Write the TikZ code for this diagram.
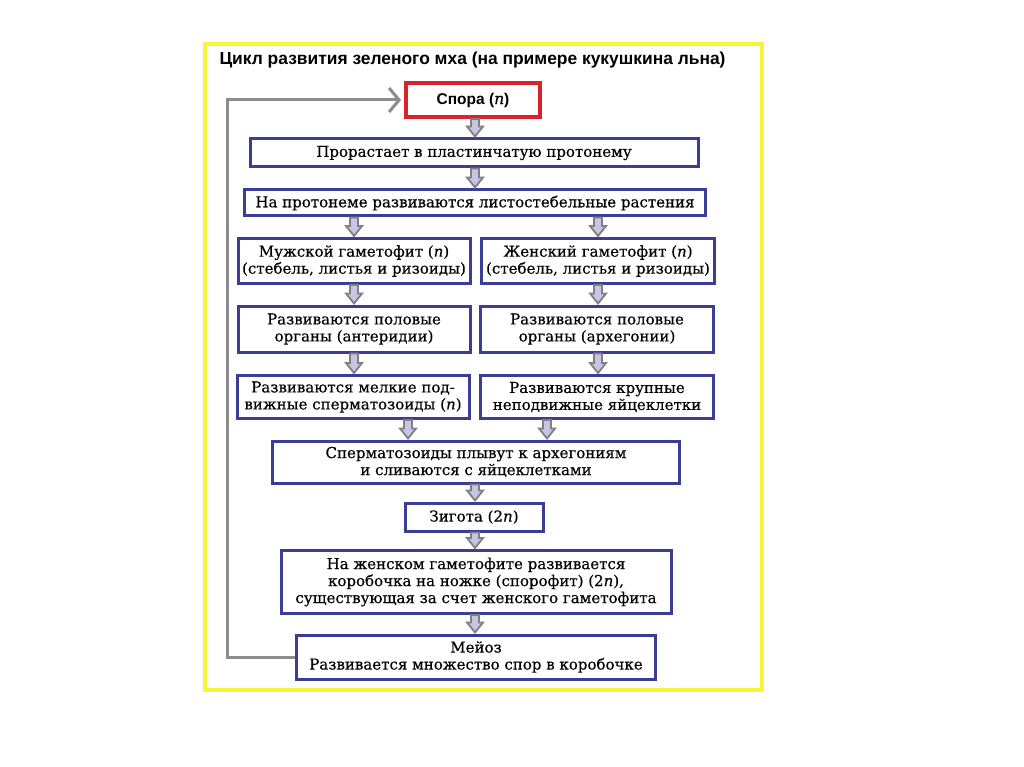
\documentclass[tikz,border=0pt]{standalone}
\usepackage{fontspec}
\setmainfont{DejaVu Serif}[FakeBold=0.4]
\newfontfamily\titlefont{Liberation Sans}
\usetikzlibrary{arrows.meta,calc}
\definecolor{boxblue}{HTML}{3A3E96}
\definecolor{sporered}{HTML}{D8232C}
\definecolor{frameyellow}{HTML}{F7F43A}
\definecolor{arrgray}{HTML}{808080}
\definecolor{arrfill}{HTML}{C8C4E4}
\definecolor{fbgray}{HTML}{8C8C8C}
\tikzset{
  bbox/.style={draw=boxblue, line width=3pt, fill=white, inner sep=0pt, align=center,
    font=\fontsize{15}{17}\selectfont},
  sporebox/.style={draw=sporered, line width=4pt, fill=white, inner sep=0pt, align=center,
    font=\titlefont\bfseries\fontsize{15.5}{18}\selectfont},
  barrowst/.style={draw=arrgray, fill=arrfill, line width=1.8pt, line join=miter},
  fb/.style={draw=fbgray, line width=3pt},
}
\newcommand\barrow[3]{%
  \draw[barrowst] let \p1=(#2.south), \p2=(#3.north), \p3=(#1,0) in
    (\x3-4pt,\y1) -- (\x3+4pt,\y1) -- (\x3+4pt,\y2+11pt) -- (\x3+8pt,\y2+11pt)
    -- (\x3,\y2+1pt) -- (\x3-8pt,\y2+11pt) -- (\x3-4pt,\y2+11pt) -- cycle;}
\newcommand\nn{\textit{n}}
\begin{document}
\begin{tikzpicture}[x=1pt,y=-1pt]
\useasboundingbox[fill=white] (0,0) rectangle (1024,767);
\draw[frameyellow, line width=4pt] (205,44) rectangle (762,690);
\node[anchor=west, font=\titlefont\bfseries\fontsize{17.4}{20}\selectfont] (title) at (216,60)
  {Цикл развития зеленого мха (на примере кукушкина льна)};

\node[sporebox, minimum width=134pt, minimum height=34pt] (spore) at (473,100)
  {Спора ({\normalfont\rmfamily\itshape n})};
\node[bbox, minimum width=448pt, minimum height=28pt] (b1) at (474,153)
  {Прорастает в пластинчатую протонему};
\node[bbox, minimum width=461pt, minimum height=26pt] (b2) at (475,203)
  {На протонеме развиваются листостебельные растения};
\node[bbox, minimum width=232pt, minimum height=45pt] (l3) at (354,261)
  {Мужской гаметофит (\nn)\\(стебель, листья и ризоиды)};
\node[bbox, minimum width=233pt, minimum height=45pt] (r3) at (598,261)
  {Женский гаметофит (\nn)\\(стебель, листья и ризоиды)};
\node[bbox, minimum width=232pt, minimum height=46pt] (l4) at (354,329)
  {Развиваются половые\\органы (антеридии)};
\node[bbox, minimum width=233pt, minimum height=46pt] (r4) at (597,329)
  {Развиваются половые\\органы (архегонии)};
\node[bbox, minimum width=232pt, minimum height=43pt] (l5) at (353,397)
  {Развиваются мелкие под-\\вижные сперматозоиды (\nn)};
\node[bbox, minimum width=233pt, minimum height=43pt] (r5) at (597,397)
  {Развиваются крупные\\неподвижные яйцеклетки};
\node[bbox, minimum width=407pt, minimum height=42pt] (b6) at (476,462)
  {Сперматозоиды плывут к архегониям\\и сливаются с яйцеклетками};
\node[bbox, minimum width=138pt, minimum height=28pt] (b7) at (474,517)
  {Зигота (2\nn)};
\node[bbox, minimum width=390pt, minimum height=63pt] (b8) at (476,582)
  {На женском гаметофите развивается\\коробочка на ножке (спорофит) (2\nn),\\существующая за счет женского гаметофита};
\node[bbox, minimum width=359pt, minimum height=44pt] (b9) at (476,657)
  {Мейоз\\Развивается множество спор в коробочке};

\barrow{475}{spore}{b1}
\barrow{475}{b1}{b2}
\barrow{354}{b2}{l3}
\barrow{598}{b2}{r3}
\barrow{354}{l3}{l4}
\barrow{598}{r3}{r4}
\barrow{354}{l4}{l5}
\barrow{598}{r4}{r5}
\barrow{408}{l5}{b6}
\barrow{547}{r5}{b6}
\barrow{475}{b6}{b7}
\barrow{475}{b7}{b8}
\barrow{475}{b8}{b9}

\path (b9.west) ++(-68,0) coordinate (corner);
\draw[fb, -{Straight Barb[length=10pt,width=24pt,line width=3pt]}]
  (b9.west) -- (corner) |- ([xshift=-3pt]spore.west);
\end{tikzpicture}
\end{document}
